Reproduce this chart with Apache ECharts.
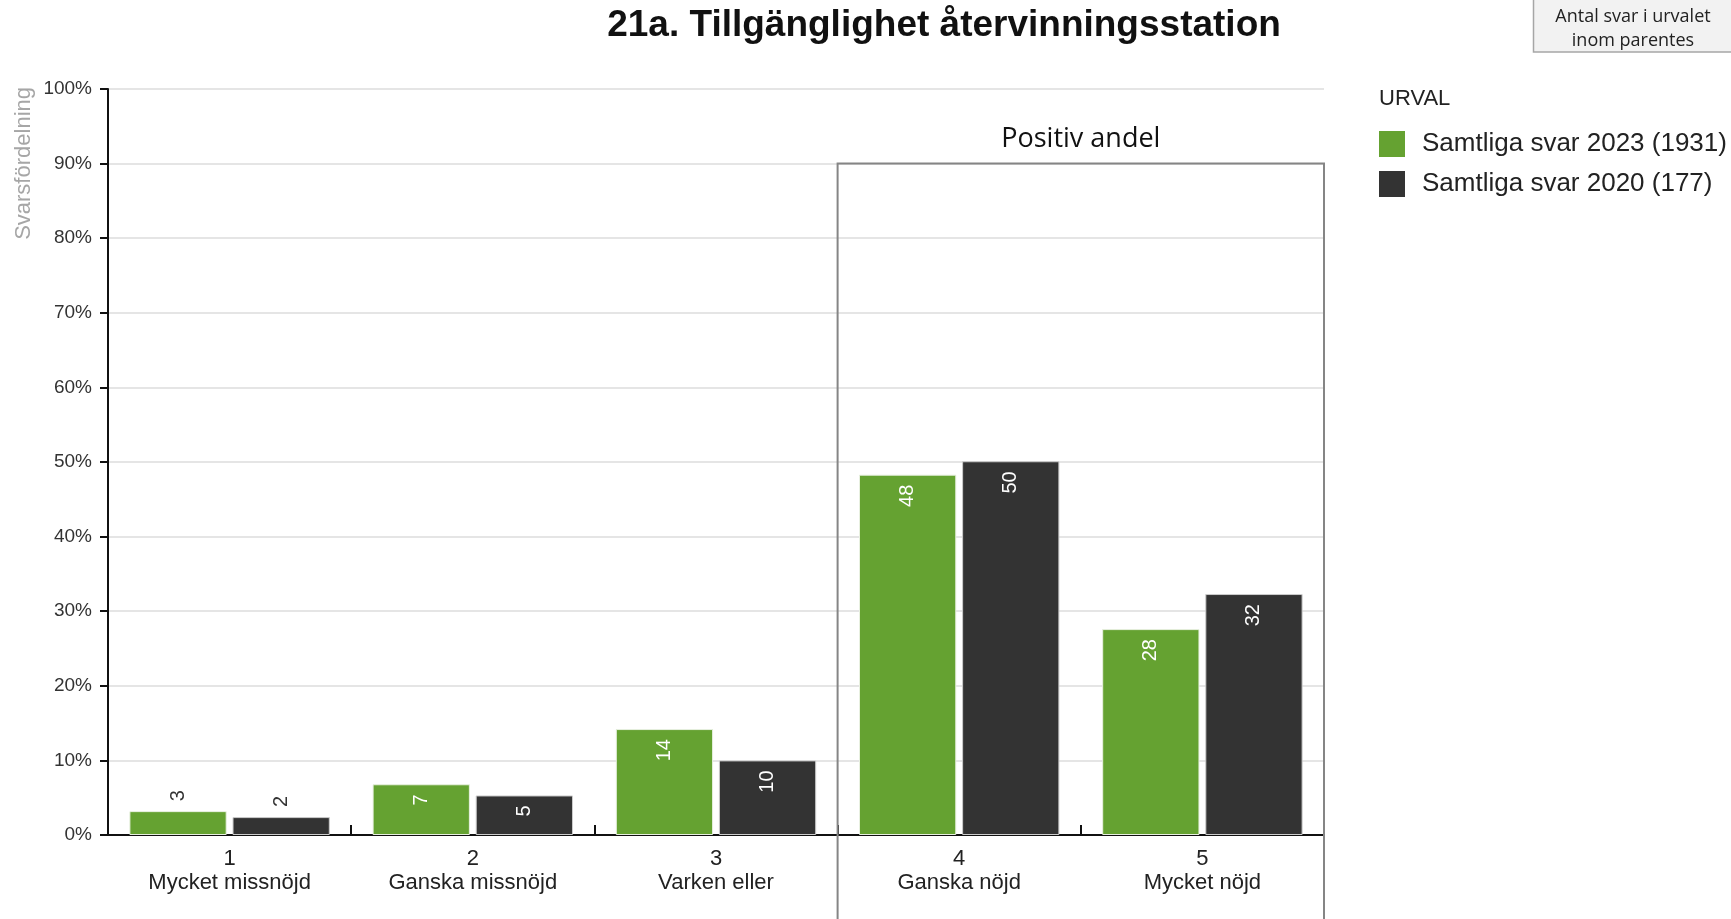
<!DOCTYPE html>
<html><head><meta charset="utf-8">
<script src="https://cdn.jsdelivr.net/npm/echarts@6/dist/echarts.min.js"></script>
<style>html,body{margin:0;padding:0;background:#fff}#c{width:1731px;height:919px}</style>
</head><body><div id="c"></div>
<script>
const titleText = '21a. Tillgänglighet återvinningsstation';
const categories = ['1\nMycket missnöjd', '2\nGanska missnöjd', '3\nVarken eller', '4\nGanska nöjd', '5\nMycket nöjd'];
const seriesNames = ['Samtliga svar 2023 (1931)', 'Samtliga svar 2020 (177)'];
const values2023 = [3.2, 6.8, 14.2, 48.3, 27.6];
const values2020 = [2.4, 5.3, 10.0, 50.1, 32.3];
const seriesColors = ['#65a231', '#333333'];
const yMin = 0, yMax = 100, yStep = 10;
const positiveFrom = 3; // index of first category in "Positiv andel"
const positiveTop = 90;

const FONT = "'Liberation Sans', Arial, sans-serif";
const chart = echarts.init(document.getElementById('c'), null, {renderer: 'canvas'});

function makeData(vals) {
  return vals.map(v => {
    const inside = v >= 4;
    return {
      value: v,
      label: inside
        ? {position: 'insideTop', align: 'right', color: '#fff', distance: 10}
        : {position: 'top', align: 'left', color: '#333', distance: 10}
    };
  });
}

const baseLabel = {
  show: true, rotate: 90, verticalAlign: 'middle', fontSize: 20, fontFamily: FONT,
  formatter: p => Math.round(p.value)
};

const option = {
  animation: false,
  backgroundColor: '#fff',
  grid: {left: 108, right: 407, top: 89, bottom: 84},
  legend: {
    orient: 'vertical', left: 1379, top: 131, padding: 0, itemWidth: 26, itemHeight: 26, itemGap: 14,
    icon: 'rect', selectedMode: false,
    itemStyle: {borderWidth: 0},
    textStyle: {fontSize: 26, color: '#222', fontFamily: FONT, padding: [0, 0, 0, 12]},
    data: seriesNames
  },
  xAxis: {
    type: 'category', data: categories,
    axisLine: {lineStyle: {color: '#111', width: 2}},
    axisTick: {show: true, inside: true, length: 10, lineStyle: {color: '#111', width: 2}},
    axisLabel: {fontSize: 22, lineHeight: 24, color: '#222', fontFamily: FONT, margin: 12}
  },
  yAxis: {
    type: 'value', min: yMin, max: yMax, interval: yStep,
    axisLine: {show: true, lineStyle: {color: '#111', width: 2}},
    axisTick: {show: true, length: 8, lineStyle: {color: '#111', width: 2}},
    axisLabel: {formatter: '{value}%', fontSize: 19, color: '#333', fontFamily: FONT, margin: 16},
    splitLine: {lineStyle: {color: '#dcdcdc', width: 1.5}}
  },
  series: [
    {name: seriesNames[0], type: 'bar', data: makeData(values2023), barWidth: '40%', barGap: '6%',
     itemStyle: {color: seriesColors[0], borderColor: '#e8f0e0', borderWidth: 1}, label: baseLabel},
    {name: seriesNames[1], type: 'bar', data: makeData(values2020), barWidth: '40%', barGap: '6%',
     itemStyle: {color: seriesColors[1], borderColor: '#cccccc', borderWidth: 1}, label: baseLabel}
  ]
};
chart.setOption(option);

const px = i => chart.convertToPixel({gridIndex: 0}, [i, positiveTop]);
const a = px(positiveFrom - 1), b = px(positiveFrom), c = px(categories.length - 1);
const band = b[0] - a[0];
const boxLeft = (a[0] + b[0]) / 2, boxRight = c[0] + band / 2, boxTop = b[1];

chart.setOption({
  graphic: [
    {type: 'text', x: 944, y: 26, z: 10,
     style: {text: titleText, font: "bold 37px 'Liberation Sans', Arial, sans-serif", fill: '#111', textAlign: 'center', textVerticalAlign: 'middle'}},
    {type: 'text', x: 24, y: 87, rotation: Math.PI / 2,
     style: {text: 'Svarsfördelning', font: "22px 'Liberation Sans', Arial, sans-serif", fill: '#a6a6a6', textAlign: 'right', textVerticalAlign: 'middle'}},
    {type: 'rect', z: 5, shape: {x: boxLeft, y: boxTop, width: boxRight - boxLeft, height: 1000},
     style: {fill: 'none', stroke: '#858585', lineWidth: 2}},
    {type: 'text', x: (boxLeft + boxRight) / 2, y: 139,
     style: {text: 'Positiv andel', font: "27px 'Open Sans', sans-serif", fill: '#111', textAlign: 'center', textVerticalAlign: 'middle'}},
    {type: 'text', x: 1379, y: 99,
     style: {text: 'URVAL', font: "22px 'Liberation Sans', Arial, sans-serif", fill: '#222', textAlign: 'left', textVerticalAlign: 'middle'}},
    {type: 'rect', shape: {x: 1533.5, y: -1, width: 200, height: 53},
     style: {fill: '#f2f2f2', stroke: '#a6a6a6', lineWidth: 1.5}},
    {type: 'text', x: 1633, y: 17,
     style: {text: 'Antal svar i urvalet', font: "18px 'Open Sans', sans-serif", fill: '#222', textAlign: 'center', textVerticalAlign: 'middle'}},
    {type: 'text', x: 1633, y: 41,
     style: {text: 'inom parentes', font: "18px 'Open Sans', sans-serif", fill: '#222', textAlign: 'center', textVerticalAlign: 'middle'}}
  ]
});
</script>
</body></html>
